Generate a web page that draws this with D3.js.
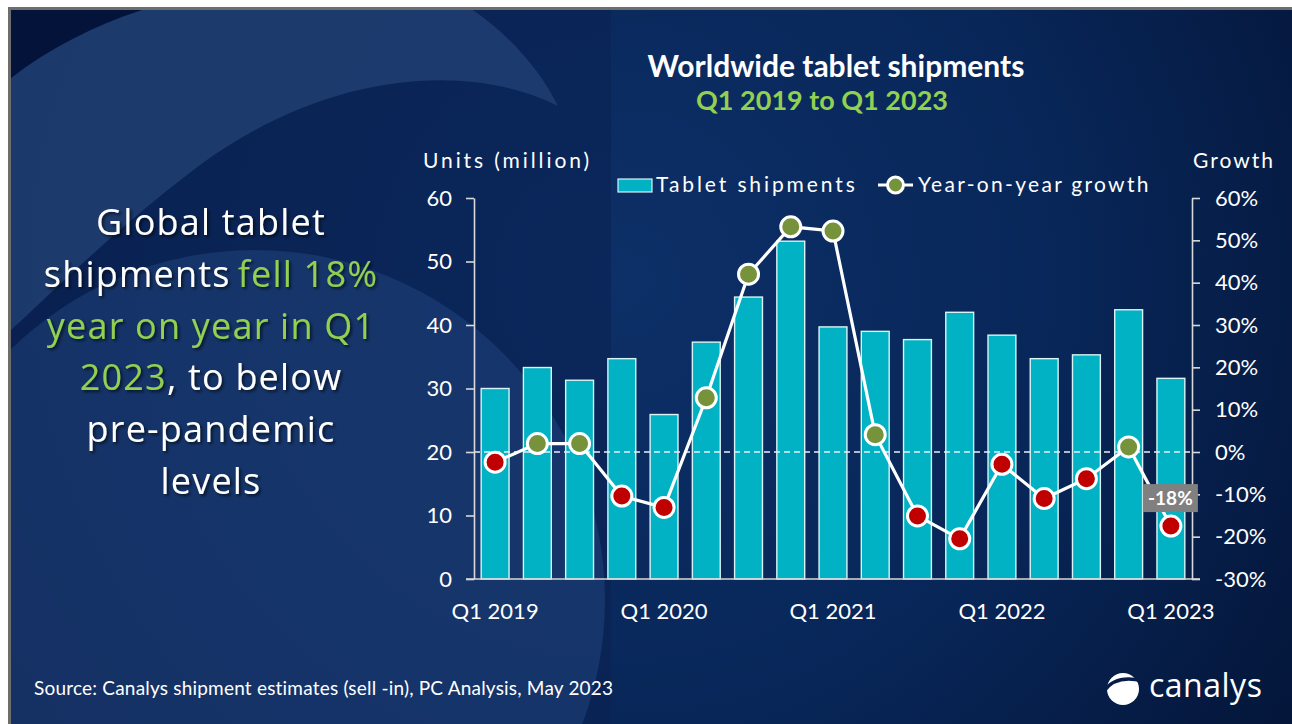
<!DOCTYPE html>
<html>
<head>
<meta charset="utf-8">
<script src="https://cdn.jsdelivr.net/npm/d3@7"></script>
<style>
  body { margin: 0; background: #fff; overflow: hidden; }
  svg { display: block; }
</style>
</head>
<body>
<svg id="chart" width="1292" height="724"></svg>
<script>
// ---- data ----
const quarters = ["Q1 2019","Q2 2019","Q3 2019","Q4 2019",
                  "Q1 2020","Q2 2020","Q3 2020","Q4 2020",
                  "Q1 2021","Q2 2021","Q3 2021","Q4 2021",
                  "Q1 2022","Q2 2022","Q3 2022","Q4 2022",
                  "Q1 2023"];
const shipments = [30.0, 33.3, 31.3, 34.7, 25.9, 37.3, 44.4, 53.2,
                   39.7, 39.0, 37.7, 42.0, 38.4, 34.7, 35.3, 42.4, 31.6];
const growth = [-2.4, 2.0, 2.0, -10.4, -13.1, 12.8, 42.0, 53.2,
                52.2, 4.1, -15.1, -20.5, -2.9, -11.0, -6.3, 1.2, -17.5];
const unitTicks = [0, 10, 20, 30, 40, 50, 60];
const growthTicks = [-30, -20, -10, 0, 10, 20, 30, 40, 50, 60];
const xLabels = ["Q1 2019", "Q1 2020", "Q1 2021", "Q1 2022", "Q1 2023"];
const lastLabel = "-18%";

// headline, one entry per line: [text, highlighted?]
const headline = [
  [["Global tablet", false]],
  [["shipments", false], ["\u2009fell 18%", true]],
  [["year on year in Q1", true]],
  [["2023", true], [", to below", false]],
  [["pre-pandemic", false]],
  [["levels", false]]
];

const WHITE = "#ffffff", GREEN_TXT = "#92d050";
const BAR = "#00b2c3", POS = "#76933c", NEG = "#c00000";

let svg = d3.select("#chart");
let defs = svg.append("defs");

// ---- slide background ----
svg.append("rect").attr("width", 1292).attr("height", 724).attr("fill", "#ffffff");
svg.append("rect").attr("x", 8).attr("y", 7).attr("width", 1284).attr("height", 717).attr("fill", "#6d6d6d");

defs.append("clipPath").attr("id", "slide")
    .append("rect").attr("x", 11).attr("y", 10).attr("width", 1281).attr("height", 714);

let bgGrad = defs.append("radialGradient").attr("id", "bg")
    .attr("gradientUnits", "userSpaceOnUse")
    .attr("cx", 620).attr("cy", 280).attr("r", 820);
bgGrad.append("stop").attr("offset", "0%").attr("stop-color", "#0d3068");
bgGrad.append("stop").attr("offset", "55%").attr("stop-color", "#082658");
bgGrad.append("stop").attr("offset", "100%").attr("stop-color", "#041538");

let bg = svg.append("g").attr("clip-path", "url(#slide)");
bg.append("rect").attr("x", 11).attr("y", 10).attr("width", 1281).attr("height", 714).attr("fill", "url(#bg)");
// dark band on the left
bg.append("rect").attr("x", 11).attr("y", 10).attr("width", 600).attr("height", 714).attr("fill", "#0b2253").attr("opacity", 0.65);
// big pale circle lower left
bg.append("circle").attr("cx", 255).attr("cy", 600).attr("r", 350)
    .attr("fill", "#2c5390").attr("opacity", 0.36);
// crescent sweep top left
bg.append("path")
    .attr("d", "M11,78 C50,45 95,22 140,8 L470,8 C510,35 540,70 558,106 C470,62 330,70 200,165 C120,225 60,285 11,330 Z")
    .attr("fill", "#203e71").attr("opacity", 0.85);
// darkest corner
bg.append("path")
    .attr("d", "M11,10 L142,10 C95,25 50,48 11,78 Z")
    .attr("fill", "#03133a");

// ---- scales ----
let plot = { left: 474, right: 1192, top: 198, bottom: 579 };

let x = d3.scaleBand()
    .domain(quarters)
    .range([plot.left, plot.right])
    .paddingInner(0.34)
    .paddingOuter(0.17);

let yL = d3.scaleLinear().domain([0, 60]).range([plot.bottom, plot.top]);
let yR = d3.scaleLinear().domain([-30, 60]).range([plot.bottom, plot.top]);

const tickFont = "Lato, 'Open Sans', sans-serif";

// ---- bars ----
svg.append("g")
    .selectAll("rect")
    .data(shipments)
    .enter()
    .append("rect")
      .attr("x", (d, i) => x(quarters[i]))
      .attr("y", d => yL(d))
      .attr("width", x.bandwidth())
      .attr("height", d => yL(0) - yL(d))
      .style("fill", BAR)
      .style("stroke", "#d8f4f6")
      .style("stroke-width", 1.4);

// zero growth line
svg.append("line")
    .attr("x1", plot.left).attr("x2", plot.right)
    .attr("y1", yR(0)).attr("y2", yR(0))
    .style("stroke", "#e8eef6")
    .style("stroke-width", 1.5)
    .style("stroke-dasharray", "6,4");

// ---- axes ----
function styleAxis(g) {
    g.selectAll("path, line").style("stroke", "#d9d9d9").style("stroke-width", 1.6);
    g.selectAll("text").style("fill", WHITE).style("font-family", tickFont).style("font-size", "22px");
}

svg.append("g")
    .attr("transform", `translate(${plot.left},0)`)
    .call(d3.axisLeft(yL).tickValues(unitTicks).tickSize(8).tickSizeOuter(0).tickPadding(14))
    .call(styleAxis);

svg.append("g")
    .attr("transform", `translate(${plot.right},0)`)
    .call(d3.axisRight(yR).tickValues(growthTicks).tickSize(8).tickSizeOuter(0).tickPadding(15)
          .tickFormat(d => d + "%"))
    .call(styleAxis);

let xAxis = svg.append("g")
    .attr("transform", `translate(0,${plot.bottom})`)
    .call(d3.axisBottom(x).tickSize(0).tickPadding(24)
          .tickFormat(d => xLabels.includes(d) ? d : ""))
    .call(styleAxis);
xAxis.select(".domain").remove();
svg.append("line")
    .attr("x1", plot.left - 8).attr("x2", plot.right + 8)
    .attr("y1", plot.bottom).attr("y2", plot.bottom)
    .style("stroke", "#d9d9d9").style("stroke-width", 1.6);

// ---- growth line + markers ----
let cx = (d, i) => x(quarters[i]) + x.bandwidth() / 2;
let line = d3.line().x(cx).y(d => yR(d));

svg.append("path")
    .datum(growth)
    .attr("d", line)
    .style("fill", "none")
    .style("stroke", WHITE)
    .style("stroke-width", 3.2);

svg.append("g")
    .selectAll("circle")
    .data(growth)
    .enter()
    .append("circle")
      .attr("cx", cx)
      .attr("cy", d => yR(d))
      .attr("r", 10)
      .style("fill", d => d >= 0 ? POS : NEG)
      .style("stroke", WHITE)
      .style("stroke-width", 3);

// label of the last quarter
let lastI = growth.length - 1;
let lblX = cx(growth[lastI], lastI), lblY = yR(growth[lastI]) - 28;
svg.append("rect")
    .attr("x", lblX - 28).attr("y", lblY - 14)
    .attr("width", 55).attr("height", 28)
    .style("fill", "#808080");
svg.append("text")
    .attr("x", lblX - 0.5).attr("y", lblY + 7)
    .attr("text-anchor", "middle")
    .style("fill", WHITE)
    .style("font-family", tickFont)
    .style("font-weight", "bold")
    .style("font-size", "19px")
    .text(lastLabel);

// ---- titles ----
svg.append("text")
    .attr("x", 836).attr("y", 77)
    .attr("text-anchor", "middle")
    .style("fill", WHITE)
    .style("font-family", tickFont)
    .style("font-weight", "bold")
    .style("font-size", "30px")
    .text("Worldwide tablet shipments");
svg.append("text")
    .attr("x", 822).attr("y", 110)
    .attr("text-anchor", "middle")
    .style("fill", GREEN_TXT)
    .style("font-family", tickFont)
    .style("font-weight", "bold")
    .style("font-size", "27px")
    .text("Q1 2019 to Q1 2023");

let spaced = (sel, size, ls) => sel
    .style("fill", WHITE)
    .style("font-family", tickFont)
    .style("font-size", size + "px")
    .style("letter-spacing", ls + "px");

svg.append("text").attr("x", 423).attr("y", 168).text("Units (million)").call(spaced, 21, 2.9);
svg.append("text").attr("x", 1193).attr("y", 168).text("Growth").call(spaced, 21, 2);

// ---- legend ----
let legend = svg.append("g");
legend.append("rect")
    .attr("x", 618).attr("y", 179).attr("width", 34).attr("height", 13)
    .style("fill", BAR).style("stroke", "#d8f4f6").style("stroke-width", 1.2);
legend.append("text").attr("x", 656).attr("y", 192).text("Tablet shipments").call(spaced, 21, 2.9);
legend.append("line")
    .attr("x1", 878).attr("x2", 913).attr("y1", 185).attr("y2", 185)
    .style("stroke", WHITE).style("stroke-width", 3);
legend.append("circle")
    .attr("cx", 895.5).attr("cy", 185).attr("r", 8)
    .style("fill", POS).style("stroke", WHITE).style("stroke-width", 3);
legend.append("text").attr("x", 918).attr("y", 192).text("Year-on-year growth").call(spaced, 21, 2.3);

// ---- headline on the left ----
let shadow = defs.append("filter").attr("id", "shadow")
    .attr("x", "-10%").attr("y", "-20%").attr("width", "130%").attr("height", "150%");
shadow.append("feDropShadow")
    .attr("dx", 2).attr("dy", 2).attr("stdDeviation", 1.5)
    .attr("flood-color", "#000").attr("flood-opacity", 0.6);

let head = svg.append("text")
    .attr("text-anchor", "middle")
    .attr("filter", "url(#shadow)")
    .style("font-family", "'Open Sans', sans-serif")
    .style("font-size", "36px")
    .style("letter-spacing", "1.2px");
headline.forEach((parts, li) => {
    let row = head.append("tspan").attr("x", 211).attr("y", 235 + li * 51.8);
    parts.forEach(p => {
        row.append("tspan").style("fill", p[1] ? GREEN_TXT : WHITE).text(p[0]);
    });
});

// ---- footer ----
svg.append("text")
    .attr("x", 34).attr("y", 695)
    .style("fill", WHITE)
    .style("font-family", tickFont)
    .style("font-size", "19px")
    .style("letter-spacing", "0.2px")
    .text("Source: Canalys shipment estimates (sell -in), PC Analysis, May 2023");

let logo = svg.append("g");
logo.append("circle").attr("cx", 1123).attr("cy", 689).attr("r", 16).style("fill", WHITE);
logo.append("path")
    .attr("d", "M1104,691 Q1116,674 1143,681")
    .style("fill", "none").style("stroke", "#061d48").style("stroke-width", 3.5);
logo.append("text")
    .attr("x", 1149).attr("y", 697)
    .style("fill", WHITE)
    .style("font-family", "'Open Sans', sans-serif")
    .style("font-size", "32px")
    .style("letter-spacing", "0.5px")
    .text("canalys");
</script>
</body>
</html>
